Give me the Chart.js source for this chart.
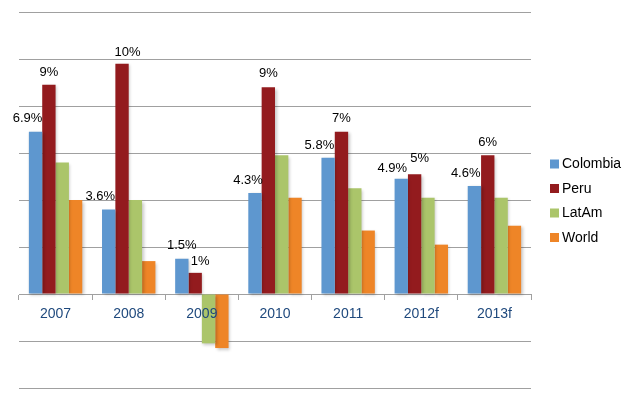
<!DOCTYPE html>
<html>
<head>
<meta charset="utf-8">
<script src="https://cdn.jsdelivr.net/npm/chart.js@4"></script>
<style>
  html, body { margin: 0; padding: 0; background: #fff; }
  #growth { display: block; }
</style>
</head>
<body>
<canvas id="growth" width="636" height="398"></canvas>
<script>
// === data ===
const years = ["2007", "2008", "2009", "2010", "2011", "2012f", "2013f"];
const colombia = [6.9, 3.6, 1.5, 4.3, 5.8, 4.9, 4.6];
const peru = [8.9, 9.8, 0.9, 8.8, 6.9, 5.1, 5.9];
const latam = [5.6, 4.0, -2.1, 5.9, 4.5, 4.1, 4.1];
const world = [4.0, 1.4, -2.3, 4.1, 2.7, 2.1, 2.9];
const colombiaLabels = ["6.9%", "3.6%", "1.5%", "4.3%", "5.8%", "4.9%", "4.6%"];
const peruLabels = ["9%", "10%", "1%", "9%", "7%", "5%", "6%"];

const seriesNames = ["Colombia", "Peru", "LatAm", "World"];
const colors = ["#5E97CF", "#931B1E", "#ABC56A", "#EE8527"];

// label nudges (the original labels were moved by hand)
const colombiaNudge = [[-8, 13], [-8.5, 13], [0, 13], [-7, 12.5], [-8.7, 12.3], [-9, 10.7], [-8.7, 12]];
const peruNudge = [[0, 12], [5.5, 11], [5, 11], [0, 13.5], [0, 13.6], [5, 16], [0, 13.3]];

const FONT = "'Liberation Sans', Arial, sans-serif";

// === shadow under bars ===
const barShadow = {
	id: "barShadow",
	beforeDatasetsDraw(chart) {
		const ctx = chart.ctx;
		ctx.save();
		ctx.shadowColor = "rgba(0,0,0,0.22)";
		ctx.shadowBlur = 3;
		ctx.shadowOffsetX = 1.5;
		ctx.shadowOffsetY = 1.5;
	},
	afterDatasetsDraw(chart) {
		chart.ctx.restore();
	},
};

// === labels on Colombia & Peru bars ===
const barLabels = {
	id: "barLabels",
	afterDatasetsDraw(chart) {
		const ctx = chart.ctx;
		ctx.save();
		ctx.font = "13px " + FONT;
		ctx.fillStyle = "#000";
		ctx.textAlign = "center";
		ctx.textBaseline = "middle";
		[[0, colombiaLabels, colombiaNudge], [1, peruLabels, peruNudge]].forEach(([idx, texts, nudge]) => {
			chart.getDatasetMeta(idx).data.forEach((bar, i) => {
				ctx.fillText(texts[i], bar.x + nudge[i][0], bar.y - nudge[i][1]);
			});
		});
		ctx.restore();
	},
};

// === legend on the right ===
const sideLegend = {
	id: "sideLegend",
	afterDraw(chart) {
		const ctx = chart.ctx;
		ctx.save();
		ctx.font = "14px " + FONT;
		ctx.textBaseline = "middle";
		ctx.textAlign = "left";
		seriesNames.forEach((name, i) => {
			const y = 164 + i * 24.5;
			ctx.fillStyle = colors[i];
			ctx.fillRect(550, y - 4.5, 9, 9);
			ctx.fillStyle = "#000";
			ctx.fillText(name, 562, y + 0.5);
		});
		ctx.restore();
	},
};

new Chart(document.getElementById("growth"), {
	type: "bar",
	data: {
		labels: years,
		datasets: [colombia, peru, latam, world].map((vals, i) => ({
			label: seriesNames[i],
			data: vals,
			backgroundColor: colors[i],
			borderWidth: 0,
			barPercentage: 1.0,
			categoryPercentage: 0.73,
		})),
	},
	options: {
		responsive: false,
		animation: false,
		layout: { padding: { left: 19, right: 105, top: 12, bottom: 10 } },
		plugins: {
			legend: { display: false },
			tooltip: { enabled: false },
		},
		scales: {
			x: {
				position: { y: 0 },
				grid: {
					drawOnChartArea: false,
					drawTicks: true,
					tickLength: 5,
					color: "#A0A0A0",
				},
				border: { display: true, color: "#A0A0A0", width: 1 },
				ticks: {
					z: 1,
					color: "#1F497D",
					font: { family: FONT, size: 14 },
					padding: 7,
					maxRotation: 0,
				},
			},
			y: {
				min: -4,
				max: 12,
				ticks: { display: false, stepSize: 2 },
				grid: { color: "#A0A0A0", drawTicks: false },
				border: { display: false },
			},
		},
	},
	plugins: [barShadow, barLabels, sideLegend],
});
</script>
</body>
</html>
